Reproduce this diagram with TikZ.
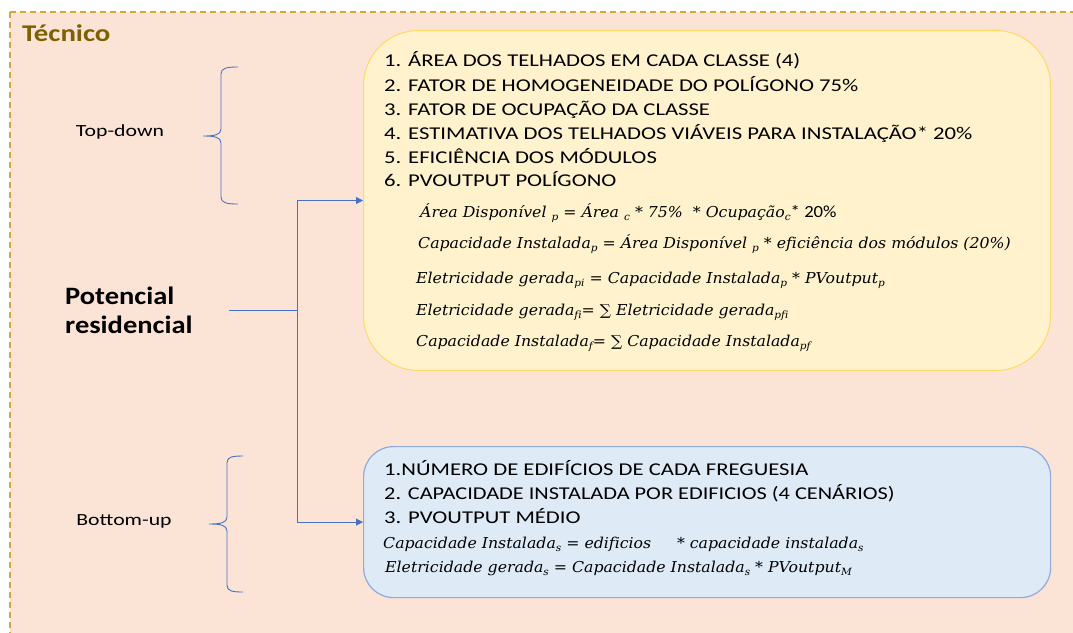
\documentclass[tikz,border=0pt]{standalone}
\usepackage{graphicx}
\usepackage{fontspec}
\setmainfont{Carlito}
\newfontfamily\frmfont[Ligatures=NoCommon]{DejaVu Serif}
\usetikzlibrary{arrows.meta}
\definecolor{peach}{HTML}{FBE4D6}
\definecolor{goldd}{HTML}{D4A83A}
\definecolor{titlec}{HTML}{7F6000}
\definecolor{yfill}{HTML}{FFF2CC}
\definecolor{ydraw}{HTML}{FFD966}
\definecolor{bfill}{HTML}{DEEBF7}
\definecolor{bdraw}{HTML}{8FAADC}
\definecolor{lblue}{HTML}{4472C4}
\newcommand{\sx}[2][1.26]{\scalebox{#1}[1]{#2}}
\newcommand{\fsb}[1]{\raisebox{-0.45ex}{\fontsize{10}{10}\selectfont\itshape #1}}
\newcommand{\fml}[1]{\scalebox{1.05}[1]{\frmfont\itshape\fontsize{15}{17}\selectfont #1}}
\tikzset{
  lst/.style={anchor=base west, font=\fontsize{18}{20}\selectfont, inner sep=0pt},
  frm/.style={anchor=base west, inner sep=0pt},
  conn/.style={draw=lblue, line width=0.9pt},
  arr/.style={conn, -{Triangle[length=7pt,width=7pt]}},
  brace/.style={draw=lblue, line width=0.9pt},
  lbl/.style={font=\fontsize{17}{19}\selectfont, inner sep=0pt}
}
\begin{document}
\begin{tikzpicture}[x=1pt,y=-1pt]
\useasboundingbox (0,0) rectangle (1073,632);
\clip (0,0) rectangle (1073,632);
\fill[white] (0,0) rectangle (1073,632);
\draw[fill=peach, draw=goldd, line width=1.2pt, dash pattern=on 6pt off 4pt] (10,12) rectangle (1090,650);
\node[anchor=west, inner sep=0pt, text=titlec, font=\fontsize{24}{26}\selectfont\bfseries] (tit) at (22,33) {\sx[1.2]{Técnico}};

% boxes
\node[draw=ydraw, fill=yfill, line width=1pt, rounded corners=55pt, minimum width=687pt, minimum height=340pt, anchor=north west] (yb) at (363,30) {};
\node[draw=bdraw, fill=bfill, line width=1.2pt, rounded corners=30pt, minimum width=687pt, minimum height=151pt, anchor=north west] (bb) at (363,446) {};

% yellow list
\node[lst] (y1) at (384,66) {\sx{1. ÁREA DOS TELHADOS EM CADA CLASSE (4)}};
\node[lst] (y2) at (384,91) {\sx{2. FATOR DE HOMOGENEIDADE DO POLÍGONO 75\%}};
\node[lst] (y3) at (384,115) {\sx{3. FATOR DE OCUPAÇÃO DA CLASSE}};
\node[lst] (y4) at (384,139) {\sx{4. ESTIMATIVA DOS TELHADOS VIÁVEIS PARA INSTALAÇÃO* 20\%}};
\node[lst] (y5) at (384,163) {\sx{5. EFICIÊNCIA DOS MÓDULOS}};
\node[lst] (y6) at (384,186) {\sx{6. PVOUTPUT POLÍGONO}};

% yellow formulas
\node[frm] (f1) at (420,217) {\fml{Área Disponível \fsb{p} = Área \fsb{c} * 75\% \ * Ocupação\fsb{c}}{\fontsize{17}{17}\selectfont\sx[1.1]{* 20\%}}};
\node[frm] (f2) at (418,248) {\fml{Capacidade Instalada\fsb{p} = Área Disponível \fsb{p} * eficiência dos módulos (20\%)}};
\node[frm] (f3) at (416,283) {\fml{Eletricidade gerada\fsb{pi} = Capacidade Instalada\fsb{p} * PVoutput\fsb{p}}};
\node[frm] (f4) at (416,315) {\fml{Eletricidade gerada\fsb{fi}= ∑ Eletricidade gerada\fsb{pfi}}};
\node[frm] (f5) at (416,346) {\fml{Capacidade Instalada\fsb{f}= ∑ Capacidade Instalada\fsb{pf}}};

% blue list
\node[lst] (b1) at (384,475) {\sx{1.NÚMERO DE EDIFÍCIOS DE CADA FREGUESIA}};
\node[lst] (b2) at (384,499) {\sx[1.24]{2. CAPACIDADE INSTALADA POR EDIFICIOS (4 CENÁRIOS)}};
\node[lst] (b3) at (384,523) {\sx{3. PVOUTPUT MÉDIO}};
\node[frm] (g1) at (383,548) {\fml{Capacidade Instalada\fsb{s} = edificios \quad\ * capacidade instalada\fsb{s}}};
\node[frm] (g2) at (385,572) {\fml{Eletricidade gerada\fsb{s} = Capacidade Instalada\fsb{s} * PVoutput\fsb{M}}};

% left labels
\node[lbl] (td) at (120,132) {\sx[1.28]{Top-down}};
\node[lbl] (bu) at (124,521) {\sx[1.28]{Bottom-up}};
\node[anchor=west, inner sep=0pt, align=left, font=\fontsize{25}{29}\selectfont\bfseries] (pot) at (65,310) {\sx[1.14]{Potencial}\\\sx[1.14]{residencial}};

% braces
\draw[brace] (238,67) .. controls (227,67) and (221,68) .. (221,74) -- (221,129) .. controls (221,135) and (214,136) .. (203,136) .. controls (214,136) and (221,137) .. (221,143) -- (221,197) .. controls (221,203) and (227,204) .. (238,204);
\draw[brace] (243,456) .. controls (232,456) and (227,457) .. (227,463) -- (227,517) .. controls (227,523) and (220,524) .. (209,524) .. controls (220,524) and (227,525) .. (227,531) -- (227,585) .. controls (227,591) and (232,592) .. (243,592);

% connectors
\coordinate (ps) at (229,310);
\coordinate (jn) at (297,310);
\draw[conn] (ps) -- (jn);
\draw[arr] (jn) |- (yb.west);
\draw[arr] (jn) |- (bb.west);
\end{tikzpicture}
\end{document}
